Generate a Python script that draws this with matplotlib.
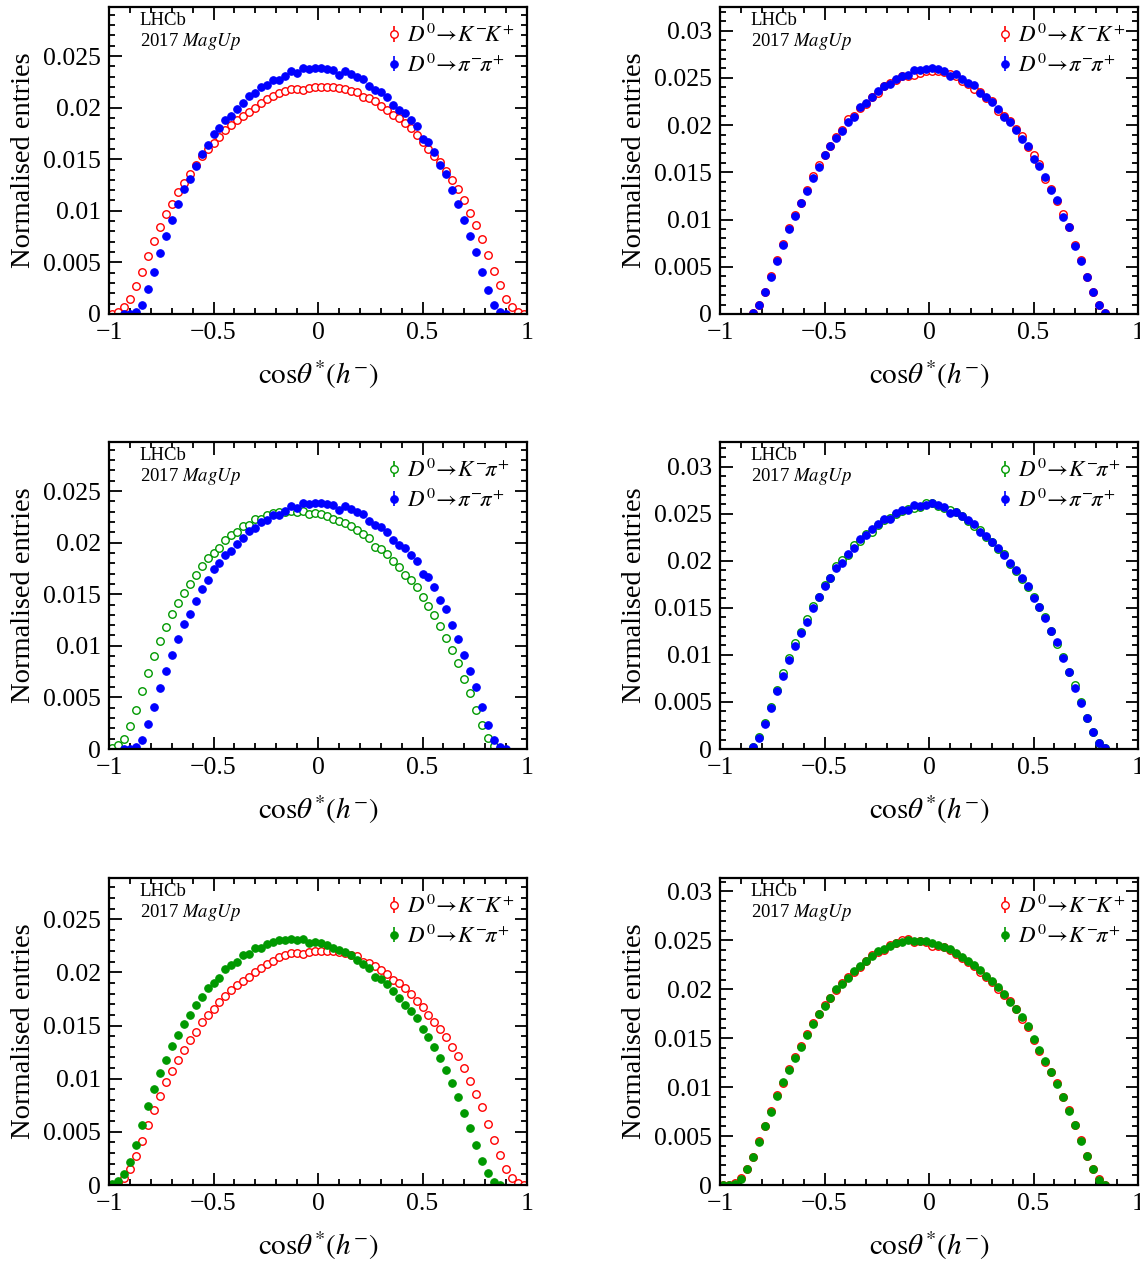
import numpy as np
import matplotlib
matplotlib.use('Agg')
import matplotlib.pyplot as plt
from matplotlib.ticker import MultipleLocator, FuncFormatter
from matplotlib.legend_handler import HandlerErrorbar
from matplotlib.container import ErrorbarContainer

plt.rcParams['font.family'] = ['Liberation Serif', 'DejaVu Serif']
plt.rcParams['mathtext.fontset'] = 'stix'

nan = np.nan

# 70 bins of cos(theta*) between -1 and 1
n_bins = 70
x_lo, x_hi = -1.0, 1.0

# left column: raw distributions
kk_raw = [0.0000, 0.0002, 0.0007, 0.0015, 0.0027, 0.0041, 0.0056, 0.0071, 0.0084, 0.0097,
          0.0107, 0.0118, 0.0127, 0.0136, 0.0144, 0.0153, 0.0160, 0.0166, 0.0172, 0.0178,
          0.0183, 0.0188, 0.0192, 0.0196, 0.0200, 0.0204, 0.0208, 0.0211, 0.0214, 0.0216,
          0.0218, 0.0218, 0.0217, 0.0219, 0.0220, 0.0220, 0.0220, 0.0220, 0.0219, 0.0218,
          0.0216, 0.0215, 0.0210, 0.0209, 0.0206, 0.0202, 0.0198, 0.0193, 0.0190, 0.0185,
          0.0180, 0.0173, 0.0167, 0.0160, 0.0153, 0.0147, 0.0139, 0.0130, 0.0121, 0.0110,
          0.0098, 0.0086, 0.0073, 0.0057, 0.0042, 0.0028, 0.0015, 0.0007, 0.0002, 0.0000]
pipi_raw = [nan, nan, 0.0000, 0.0000, 0.0002, 0.0009, 0.0024, 0.0041, 0.0059, 0.0076,
            0.0091, 0.0107, 0.0121, 0.0131, 0.0143, 0.0155, 0.0164, 0.0174, 0.0180, 0.0188,
            0.0192, 0.0199, 0.0204, 0.0211, 0.0214, 0.0220, 0.0222, 0.0227, 0.0227, 0.0231,
            0.0235, 0.0234, 0.0238, 0.0237, 0.0238, 0.0238, 0.0237, 0.0236, 0.0232, 0.0235,
            0.0233, 0.0230, 0.0228, 0.0221, 0.0217, 0.0215, 0.0210, 0.0203, 0.0198, 0.0195,
            0.0188, 0.0182, 0.0170, 0.0167, 0.0157, 0.0144, 0.0136, 0.0120, 0.0107, 0.0091,
            0.0076, 0.0060, 0.0041, 0.0023, 0.0009, 0.0002, 0.0000, nan, nan, nan]
kpi_raw = [0.0001, 0.0004, 0.0010, 0.0022, 0.0038, 0.0056, 0.0074, 0.0090, 0.0105, 0.0118,
           0.0131, 0.0141, 0.0151, 0.0160, 0.0169, 0.0177, 0.0185, 0.0190, 0.0195, 0.0203,
           0.0207, 0.0210, 0.0216, 0.0217, 0.0223, 0.0223, 0.0227, 0.0229, 0.0230, 0.0230,
           0.0231, 0.0230, 0.0231, 0.0228, 0.0229, 0.0228, 0.0226, 0.0223, 0.0221, 0.0219,
           0.0216, 0.0212, 0.0208, 0.0204, 0.0196, 0.0194, 0.0189, 0.0182, 0.0176, 0.0169,
           0.0164, 0.0157, 0.0147, 0.0139, 0.0130, 0.0119, 0.0108, 0.0096, 0.0083, 0.0068,
           0.0054, 0.0038, 0.0023, 0.0011, 0.0003, 0.0000, nan, nan, nan, nan]

# right column: after weighting
kk_w_top = [nan, nan, nan, nan, nan, 0.0001, 0.0010, 0.0023, 0.0040, 0.0057,
            0.0074, 0.0091, 0.0105, 0.0118, 0.0131, 0.0146, 0.0158, 0.0168, 0.0178, 0.0187,
            0.0195, 0.0206, 0.0210, 0.0218, 0.0222, 0.0230, 0.0234, 0.0241, 0.0245, 0.0248,
            0.0252, 0.0252, 0.0253, 0.0255, 0.0257, 0.0257, 0.0257, 0.0256, 0.0254, 0.0252,
            0.0247, 0.0244, 0.0238, 0.0235, 0.0229, 0.0226, 0.0215, 0.0210, 0.0204, 0.0196,
            0.0188, 0.0177, 0.0168, 0.0159, 0.0143, 0.0132, 0.0120, 0.0106, 0.0092, 0.0073,
            0.0057, 0.0039, 0.0023, 0.0010, 0.0001, nan, nan, nan, nan, nan]
pipi_w_top = [nan, nan, nan, nan, nan, 0.0001, 0.0010, 0.0023, 0.0039, 0.0056,
              0.0073, 0.0090, 0.0104, 0.0118, 0.0130, 0.0144, 0.0156, 0.0168, 0.0178, 0.0186,
              0.0194, 0.0203, 0.0209, 0.0219, 0.0223, 0.0230, 0.0236, 0.0241, 0.0243, 0.0249,
              0.0252, 0.0253, 0.0258, 0.0258, 0.0259, 0.0260, 0.0259, 0.0257, 0.0252, 0.0254,
              0.0249, 0.0245, 0.0242, 0.0234, 0.0230, 0.0224, 0.0217, 0.0209, 0.0203, 0.0195,
              0.0185, 0.0178, 0.0164, 0.0157, 0.0145, 0.0131, 0.0121, 0.0103, 0.0092, 0.0072,
              0.0056, 0.0039, 0.0023, 0.0010, 0.0001, nan, nan, nan, nan, nan]
kpi_w_mid = [nan, nan, nan, nan, nan, 0.0002, 0.0013, 0.0028, 0.0045, 0.0063,
             0.0081, 0.0097, 0.0113, 0.0124, 0.0138, 0.0152, 0.0162, 0.0174, 0.0182, 0.0194,
             0.0201, 0.0206, 0.0217, 0.0221, 0.0228, 0.0231, 0.0238, 0.0243, 0.0246, 0.0250,
             0.0253, 0.0255, 0.0256, 0.0257, 0.0261, 0.0261, 0.0258, 0.0256, 0.0254, 0.0252,
             0.0248, 0.0242, 0.0237, 0.0233, 0.0225, 0.0220, 0.0213, 0.0207, 0.0197, 0.0189,
             0.0181, 0.0172, 0.0162, 0.0151, 0.0140, 0.0125, 0.0112, 0.0098, 0.0082, 0.0068,
             0.0050, 0.0033, 0.0018, 0.0006, 0.0001, nan, nan, nan, nan, nan]
pipi_w_mid = [nan, nan, nan, nan, nan, 0.0002, 0.0012, 0.0027, 0.0044, 0.0062,
              0.0078, 0.0095, 0.0109, 0.0123, 0.0135, 0.0150, 0.0162, 0.0173, 0.0182, 0.0192,
              0.0198, 0.0207, 0.0214, 0.0223, 0.0227, 0.0234, 0.0239, 0.0244, 0.0244, 0.0251,
              0.0254, 0.0254, 0.0259, 0.0258, 0.0259, 0.0261, 0.0259, 0.0257, 0.0251, 0.0252,
              0.0248, 0.0243, 0.0239, 0.0231, 0.0226, 0.0220, 0.0214, 0.0206, 0.0198, 0.0190,
              0.0182, 0.0173, 0.0160, 0.0151, 0.0139, 0.0125, 0.0114, 0.0097, 0.0082, 0.0065,
              0.0049, 0.0033, 0.0018, 0.0006, 0.0001, nan, nan, nan, nan, nan]
kk_w_bot = [0.0000, 0.0000, 0.0002, 0.0007, 0.0016, 0.0029, 0.0045, 0.0060, 0.0076, 0.0092,
            0.0104, 0.0119, 0.0131, 0.0142, 0.0154, 0.0166, 0.0175, 0.0184, 0.0191, 0.0199,
            0.0206, 0.0213, 0.0218, 0.0223, 0.0229, 0.0235, 0.0238, 0.0240, 0.0245, 0.0247,
            0.0250, 0.0251, 0.0248, 0.0249, 0.0248, 0.0244, 0.0244, 0.0243, 0.0240, 0.0236,
            0.0232, 0.0228, 0.0224, 0.0218, 0.0213, 0.0207, 0.0200, 0.0194, 0.0188, 0.0180,
            0.0170, 0.0161, 0.0148, 0.0137, 0.0126, 0.0115, 0.0104, 0.0090, 0.0077, 0.0061,
            0.0046, 0.0030, 0.0016, 0.0006, 0.0000, nan, nan, nan, nan, nan]
kpi_w_bot = [0.0000, 0.0000, 0.0001, 0.0006, 0.0016, 0.0029, 0.0044, 0.0060, 0.0075, 0.0091,
             0.0105, 0.0118, 0.0130, 0.0141, 0.0153, 0.0165, 0.0175, 0.0183, 0.0191, 0.0200,
             0.0205, 0.0212, 0.0219, 0.0224, 0.0229, 0.0234, 0.0239, 0.0241, 0.0244, 0.0247,
             0.0248, 0.0250, 0.0249, 0.0249, 0.0249, 0.0247, 0.0245, 0.0243, 0.0241, 0.0237,
             0.0233, 0.0229, 0.0225, 0.0220, 0.0214, 0.0208, 0.0202, 0.0195, 0.0187, 0.0180,
             0.0172, 0.0162, 0.0149, 0.0138, 0.0127, 0.0115, 0.0103, 0.0090, 0.0076, 0.0061,
             0.0045, 0.0030, 0.0016, 0.0005, 0.0000, nan, nan, nan, nan, nan]

lbl_kk = r'$D^{0}\!\rightarrow\!K^{-}\!K^{+}$'
lbl_pipi = r'$D^{0}\!\rightarrow\!\pi^{-}\!\pi^{+}$'
lbl_kpi = r'$D^{0}\!\rightarrow\!K^{-}\!\pi^{+}$'

red = '#ff0000'
blue = '#0000ff'
green = '#009900'

edges = np.linspace(x_lo, x_hi, n_bins + 1)
centres = 0.5 * (edges[:-1] + edges[1:])


def fmt(v, pos):
    s = '%g' % round(v, 6)
    if s == '-0':
        s = '0'
    return s.replace('-', '\u2212')


def draw_panel(ax, open_vals, open_lbl, open_col, full_vals, full_lbl, full_col):
    a = np.array(open_vals, dtype=float)
    b = np.array(full_vals, dtype=float)
    h1 = ax.errorbar(centres, a, yerr=np.zeros_like(a), fmt='o', ms=5.4, mfc='white',
                     mec=open_col, mew=1.0, ecolor=open_col, elinewidth=1.2, capsize=0)
    h2 = ax.errorbar(centres, b, yerr=np.zeros_like(b), fmt='o', ms=5.4, mfc=full_col,
                     mec=full_col, mew=0.8, ecolor=full_col, elinewidth=1.2, capsize=0)
    ymax = 1.25 * max(np.nanmax(a), np.nanmax(b))
    ax.set_xlim(x_lo, x_hi)
    ax.set_ylim(0, ymax)
    ax.xaxis.set_major_locator(MultipleLocator(0.5))
    ax.xaxis.set_minor_locator(MultipleLocator(0.1))
    ax.yaxis.set_major_locator(MultipleLocator(0.005))
    ax.yaxis.set_minor_locator(MultipleLocator(0.001))
    ax.xaxis.set_major_formatter(FuncFormatter(fmt))
    ax.yaxis.set_major_formatter(FuncFormatter(fmt))
    ax.tick_params(which='both', direction='in', top=True, right=True, width=1.3, labelsize=18.5)
    ax.tick_params(which='major', length=9, pad=6)
    ax.tick_params(which='minor', length=4.5)
    for sp in ax.spines.values():
        sp.set_linewidth(1.6)
    ax.set_xlabel(r'$\mathrm{cos}\theta^{*}(h^{-})$', fontsize=21)
    ax.set_ylabel('Normalised entries', fontsize=20.5)
    ax.xaxis.set_label_coords(0.5, -0.145)
    ax.yaxis.set_label_coords(-0.175, 0.5)
    ax.text(0.074, 0.955, 'LHCb', transform=ax.transAxes, fontsize=13.5, va='center')
    ax.text(0.074, 0.887, r'2017 $\mathit{MagUp}$', transform=ax.transAxes, fontsize=13.5, va='center')
    ax.legend([h1, h2], [open_lbl, full_lbl], loc='upper left', bbox_to_anchor=(0.655, 0.96),
              frameon=False, fontsize=16.5, handlelength=0.6, handletextpad=0.25,
              labelspacing=0.28, borderaxespad=0, borderpad=0.2,
              handler_map={ErrorbarContainer: HandlerErrorbar(xerr_size=0.33)})


fig = plt.figure(figsize=(11.4, 12.62), dpi=100)
col_left = [109 / 1140, 720 / 1140]
width = 418 / 1140
row_bottom = [(1262 - 314) / 1262, (1262 - 749) / 1262, (1262 - 1185) / 1262]
height = 307 / 1262

axes = [[fig.add_axes([cl, rb, width, height]) for cl in col_left] for rb in row_bottom]

draw_panel(axes[0][0], kk_raw, lbl_kk, red, pipi_raw, lbl_pipi, blue)
draw_panel(axes[0][1], kk_w_top, lbl_kk, red, pipi_w_top, lbl_pipi, blue)
draw_panel(axes[1][0], kpi_raw, lbl_kpi, green, pipi_raw, lbl_pipi, blue)
draw_panel(axes[1][1], kpi_w_mid, lbl_kpi, green, pipi_w_mid, lbl_pipi, blue)
draw_panel(axes[2][0], kk_raw, lbl_kk, red, kpi_raw, lbl_kpi, green)
draw_panel(axes[2][1], kk_w_bot, lbl_kk, red, kpi_w_bot, lbl_kpi, green)

fig.savefig('out.png', dpi=100)
